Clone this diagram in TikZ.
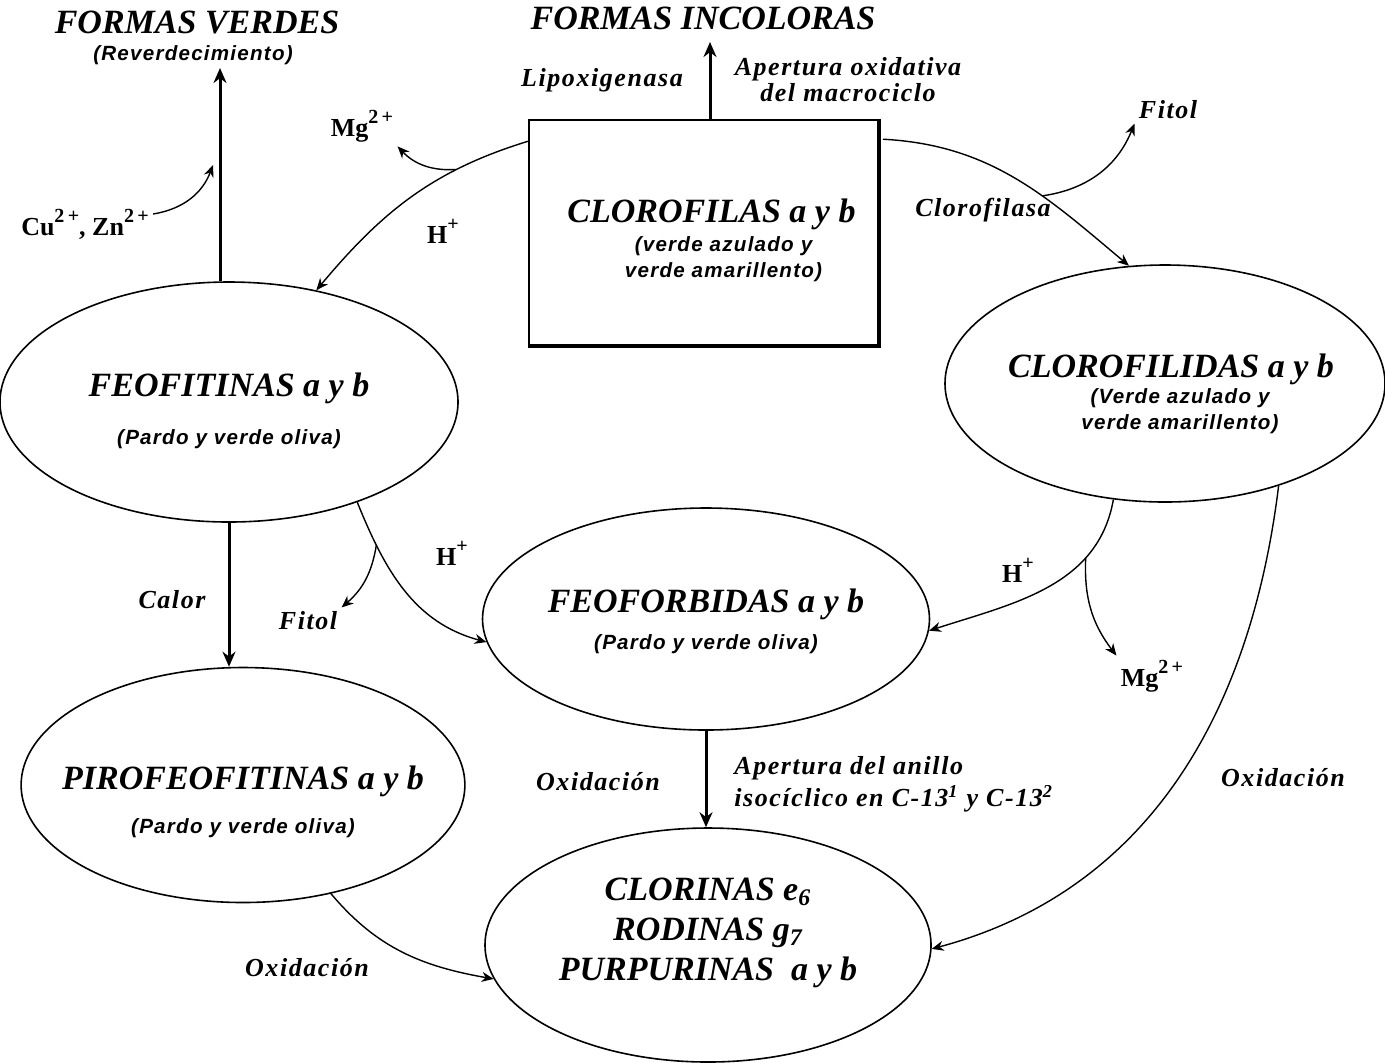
\documentclass[tikz,border=0pt]{standalone}
\usepackage{fontspec}
\usetikzlibrary{shapes.geometric,arrows.meta}
\newfontfamily\tmsfont{Liberation Serif}
\newfontfamily\tmsspaced[LetterSpace=6]{Liberation Serif}
\newfontfamily\arsfont[LetterSpace=6]{Liberation Sans}
\newcommand\headtxt{\tmsfont\bfseries\itshape\fontsize{17}{20}\selectfont}
\newcommand\nametxt{\tmsfont\bfseries\itshape\fontsize{17}{20}\selectfont}
\newcommand\colortxt{\arsfont\bfseries\itshape\fontsize{10.3}{13}\selectfont}
\newcommand\steptxt{\tmsspaced\bfseries\itshape\fontsize{13}{16}\selectfont}
\newcommand\iontxt{\tmsfont\bfseries\fontsize{13}{15}\selectfont}
\newcommand\ionsup[1]{\raisebox{0.5em}{\fontsize{10}{10}\selectfont#1}}

\begin{document}
\begin{tikzpicture}[x=0.5pt,y=-0.5pt,
  ell/.style={ellipse,draw,line width=0.8pt,inner sep=0pt,align=center,font=\colortxt},
  arr/.style={-{Stealth[length=6pt,width=5pt]},line width=0.7pt},
  bigarr/.style={-{Stealth[length=7.5pt,width=6.5pt]},line width=1.5pt},
  lbl/.style={font=\steptxt,inner sep=2pt},
  ion/.style={font=\iontxt,inner sep=2pt}]
  \useasboundingbox (0,0) rectangle (1385,1062);

  % pigmentos
  \node[draw,line width=0.8pt,minimum width=174.5pt,minimum height=112.5pt,align=center,font=\colortxt]
    (clorof) at (703.5,232.5) {\nametxt\hspace*{8pt}\rule{0pt}{19.5pt}CLOROFILAS a y b\\[1.5pt]\hspace*{20pt}(verde azulado y\\\hspace*{20pt}verde amarillento)};
  \draw[line width=1.2pt] ([xshift=0.6pt]clorof.north east) -- ([xshift=0.6pt,yshift=-0.6pt]clorof.south east)
    -- ([yshift=-0.6pt]clorof.south west);
  \node[ell,minimum width=229pt,minimum height=120pt] (feofit) at (229,402)
    {\nametxt\rule{0pt}{20.5pt}FEOFITINAS a y b\\[11pt](Pardo y verde oliva)};
  \node[ell,inner sep=-7pt,minimum width=220pt,minimum height=118.5pt] (clfd) at (1165,383.5)
    {\nametxt\hspace*{6pt}\rule{0pt}{22.5pt}CLOROFILIDAS a y b\\\hspace*{15pt}(Verde azulado y\\\hspace*{15pt}verde amarillento)};
  \node[ell,inner sep=-2pt,minimum width=223.5pt,minimum height=111pt] (feoforb) at (706,619)
    {\nametxt\rule{0pt}{14pt}FEOFORBIDAS a y b\\[5.5pt](Pardo y verde oliva)};
  \node[ell,inner sep=-12pt,minimum width=221.5pt,minimum height=117.5pt] (pirofeo) at (243,785)
    {\nametxt\rule{0pt}{28.5pt}PIROFEOFITINAS a y b\\[9pt](Pardo y verde oliva)};
  \node[ell,font=\nametxt,minimum width=223pt,minimum height=117pt] (clorin) at (708,945)
    {CLORINAS e\textsubscript{6}\\RODINAS g\textsubscript{7}\\PURPURINAS\ \ a y b\rule[-16pt]{0pt}{16pt}};

  % formas finales
  \node[font=\headtxt] (verdes) at (197,22) {FORMAS VERDES};
  \node[font=\colortxt] (reverd) at (193,55) {(Reverdecimiento)};
  \node[font=\headtxt] (incolor) at (703,18) {FORMAS INCOLORAS};

  % etiquetas
  \node[lbl] (lipox) at (602,80) {Lipoxigenasa};
  \node[lbl,align=center] (apmacro) at (848,80) {Apertura oxidativa\\[-3pt]del macrociclo};
  \node[lbl] (clfasa) at (983,210) {Clorofilasa};
  \node[lbl] (fitolB) at (1168,110) {Fitol};
  \node[lbl] (calor) at (172,600) {Calor};
  \node[lbl] (fitolA) at (308,621) {Fitol};
  \node[lbl] (oxidA) at (598,782) {Oxidación};
  \node[lbl] (oxidB) at (1283,778) {Oxidación};
  \node[lbl] (oxidC) at (307,968) {Oxidación};
  \node[lbl,align=left,anchor=west] (apanillo) at (730,784)
    {Apertura del anillo\\isocíclico en C-13\textsuperscript{1} y C-13\textsuperscript{2}};

  % iones
  \node[ion] (mgA) at (362,126) {Mg\ionsup{2\,+}};
  \node[ion] (hA) at (443,231) {H\ionsup{+}};
  \node[ion] (cuzn) at (85,224) {Cu\ionsup{2\,+}, Zn\ionsup{2\,+}};
  \node[ion] (hB) at (452,553) {H\ionsup{+}};
  \node[ion] (hC) at (1018,570) {H\ionsup{+}};
  \node[ion] (mgB) at (1152,676) {Mg\ionsup{2\,+}};

  % flechas principales
  \coordinate (vtip) at (220,68);
  \coordinate (itip) at (710,42);
  \coordinate (cutip) at (213,165);
  \draw[bigarr] (vtip |- feofit.north) -- (vtip);
  \draw[bigarr] (itip |- clorof.north) -- (itip);
  \draw[bigarr] (feofit.south) -- (feofit.south |- pirofeo.north);
  \draw[bigarr] (feoforb.south) -- (feoforb.south |- clorin.north);

  % reacciones
  \draw[arr] ([yshift=-11pt]clorof.north west) to[out=197,in=50] coordinate[pos=0.28] (jmgA) (feofit.52);
  \draw[arr] (jmgA) to[bend left=25] (mgA.south east);
  \draw[arr] ([xshift=2pt,yshift=-10pt]clorof.north east) to[out=-3,in=140] coordinate[pos=0.62] (jfit) (clfd.107);
  \draw[arr] (jfit) to[bend right=30] (fitolB.south west);
  \draw[arr] ([yshift=5pt]cuzn.east) to[bend right=30] (cutip);
  \draw[arr] (feofit.-38) to[out=-68,in=165] coordinate[pos=0.22] (jfitA) (feoforb.186);
  \draw[arr] (jfitA) to[bend left=20] (fitolA.north east);
  \draw[arr] (clfd.246) to[out=-100,in=18] coordinate[pos=0.28] (jmgB) (feoforb.-3);
  \draw[arr] (jmgB) to[bend right=20] (mgB.north west);
  \draw[arr] (clfd.-42) to[out=-97,in=15] (clorin.-1);
  \draw[arr] (pirofeo.-51) to[out=-50,in=170] (clorin.189);
\end{tikzpicture}
\end{document}
